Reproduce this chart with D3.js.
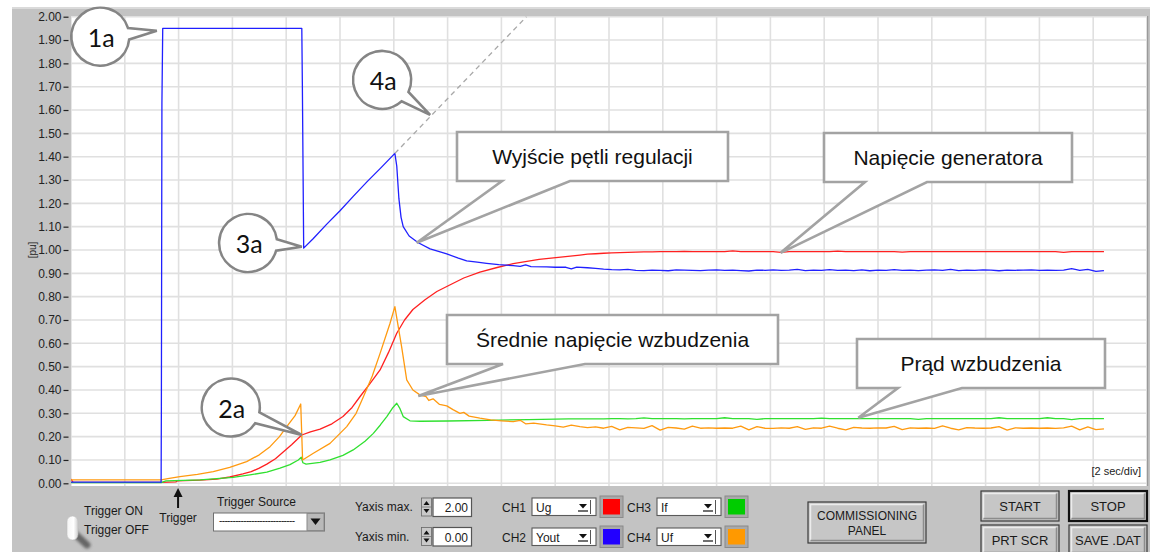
<!DOCTYPE html>
<html><head><meta charset="utf-8">
<script src="https://cdn.jsdelivr.net/npm/d3@7"></script>
<style>
html,body{margin:0;padding:0;background:#fff;}
svg{display:block;font-family:"Liberation Sans",Arial,sans-serif;}
</style></head><body>
<svg id="chart" width="1154" height="552"></svg>
<script>
// ---- axis ticks / grid ----
const yTickValues = [0.0,0.1,0.2,0.3,0.4,0.5,0.6,0.7,0.8,0.9,1.0,1.1,1.2,1.3,1.4,1.5,1.6,1.7,1.8,1.9,2.0];
const xGridTimes = [0,2,4,6,8,10,12,14,16,18,20,22,24,26,28,30,32,34,36,38,40];

// ---- recorded channels: transient part as [time s, value pu] ----
const youtTransient = [[0,0.005],[3.35,0.005],[3.36,0.33],[3.38,1.63],[3.41,1.95],[8.58,1.95],[8.60,1.72],[8.65,1.008],
 [9.0,1.048],[9.5,1.110],[10.0,1.168],[10.5,1.231],[11.0,1.292],[11.5,1.350],[12.04,1.414],[12.11,1.36],[12.19,1.22],
 [12.27,1.14],[12.35,1.10],[12.57,1.06],[12.91,1.031],[13.35,1.005],[13.97,0.983],[14.4,0.965],[14.71,0.953],[15.1,0.948],
 [15.45,0.943],[15.9,0.937],[16.44,0.933],[16.7,0.930],[16.9,0.936],[17.1,0.929],[17.68,0.928],[18.0,0.926],[18.4,0.926],
 [18.6,0.919],[18.8,0.927],[19.2,0.924]];
const ugTransient = [[0,0.018],[0.08,0.004],[3.35,0.004],[3.9,0.006],[3.95,0.010],[4.8,0.014],[5.42,0.018],[5.9,0.027],
 [6.39,0.040],[6.7,0.050],[7.0,0.065],[7.28,0.082],[7.6,0.105],[7.9,0.135],[8.2,0.165],[8.58,0.207],[8.9,0.220],[9.26,0.232],
 [9.7,0.255],[10.11,0.286],[10.45,0.325],[10.74,0.371],[11.1,0.425],[11.49,0.486],[11.8,0.560],[12.11,0.643],[12.4,0.700],
 [12.71,0.745],[13.16,0.787],[13.6,0.822],[14.08,0.850],[14.6,0.880],[15.2,0.905],[15.84,0.925],[16.44,0.942],[17.4,0.960],
 [18.92,0.978],[19.2,0.982]];
const ifTransient = [[0,0.003],[3.35,0.003],[3.53,0.010],[4.8,0.015],[6.02,0.025],[6.65,0.036],[7.28,0.048],[7.77,0.065],
 [8.14,0.080],[8.45,0.100],[8.56,0.112],[8.62,0.088],[8.74,0.082],[9.26,0.090],[9.63,0.100],[10.11,0.120],[10.49,0.143],
 [10.93,0.180],[11.24,0.214],[11.5,0.250],[11.74,0.286],[11.97,0.325],[12.11,0.343],[12.23,0.320],[12.35,0.286],[12.60,0.268],
 [12.97,0.266],[14.0,0.267],[15.5,0.270],[17.0,0.273],[18.5,0.276],[19.2,0.276]];
const ufTransient = [[0,0.015],[3.35,0.015],[3.6,0.020],[4.05,0.029],[4.7,0.038],[5.29,0.050],[5.9,0.068],[6.53,0.093],
 [7.0,0.122],[7.40,0.157],[7.75,0.200],[8.02,0.243],[8.33,0.290],[8.54,0.340],[8.61,0.100],[9.01,0.129],[9.63,0.171],
 [10.25,0.243],[10.6,0.300],[10.87,0.371],[11.2,0.460],[11.49,0.557],[11.86,0.686],[12.04,0.757],[12.29,0.586],[12.48,0.443],
 [12.71,0.400],[12.97,0.379],[13.2,0.372],[13.3,0.355],[13.46,0.362],[13.7,0.338],[13.97,0.332],[14.2,0.316],[14.46,0.300],
 [14.6,0.304],[14.8,0.288],[15.2,0.279],[15.6,0.272],[16.0,0.268],[16.44,0.264],[16.7,0.270],[16.9,0.255],[17.2,0.258],
 [17.68,0.250],[18.0,0.246],[18.3,0.241],[18.6,0.249],[18.92,0.243],[19.2,0.239]];

// ---- steady-state samples, one every 0.3 s from 19.5 s ----
const steadyStart = 19.5, steadyStep = 0.3;
const youtSteady = [0.921,0.918,0.916,0.915,0.917,0.913,0.912,0.914,0.913,0.911,0.915,0.914,0.913,0.912,0.914,0.915,
 0.913,0.914,0.912,0.910,0.914,0.913,0.915,0.913,0.914,0.917,0.912,0.914,0.913,0.916,0.913,0.914,0.912,0.915,0.911,0.914,
 0.913,0.916,0.913,0.914,0.912,0.914,0.915,0.913,0.917,0.912,0.914,0.913,0.915,0.914,0.911,0.914,0.913,0.914,0.915,0.913,
 0.914,0.913,0.914,0.920,0.913,0.917,0.908,0.912];
const ugSteady = [0.984,0.986,0.988,0.989,0.990,0.991,0.992,0.992,0.993,0.993,0.993,0.994,0.993,0.993,0.993,0.993,0.993,
 0.996,0.993,0.993,0.993,0.993,0.993,0.990,0.993,0.993,0.993,0.993,0.993,0.993,0.995,0.993,0.993,0.993,0.993,0.993,0.993,
 0.993,0.991,0.993,0.993,0.993,0.993,0.993,0.993,0.993,0.993,0.993,0.993,0.993,0.993,0.993,0.993,0.993,0.993,0.993,0.993,
 0.993,0.990,0.993,0.993,0.993,0.993,0.993];
const ifSteady = [0.276,0.276,0.277,0.277,0.276,0.277,0.280,0.277,0.277,0.277,0.277,0.276,0.277,0.277,0.277,0.277,0.281,
 0.277,0.277,0.277,0.274,0.277,0.277,0.277,0.277,0.277,0.277,0.277,0.279,0.277,0.277,0.277,0.277,0.277,0.277,0.277,0.277,
 0.277,0.277,0.277,0.274,0.277,0.277,0.277,0.277,0.277,0.277,0.277,0.277,0.277,0.281,0.277,0.277,0.277,0.277,0.277,0.281,
 0.277,0.277,0.273,0.277,0.277,0.277,0.277];
const ufSteady = [0.242,0.236,0.244,0.229,0.240,0.238,0.235,0.247,0.228,0.240,0.237,0.232,0.245,0.236,0.238,0.236,0.237,
 0.236,0.245,0.229,0.243,0.236,0.235,0.238,0.236,0.243,0.231,0.238,0.236,0.245,0.236,0.229,0.240,0.237,0.236,0.238,0.237,
 0.244,0.230,0.238,0.236,0.237,0.235,0.246,0.236,0.229,0.239,0.237,0.236,0.237,0.243,0.228,0.238,0.236,0.237,0.236,0.237,
 0.235,0.238,0.245,0.229,0.242,0.230,0.233];

// extrapolated ramp of the control output (dashed)
const rampExtension = [[12.04,1.414],[16.93,2.0]];

// ---- annotations: anchor in data space ----
const circleNotes = [
  {label:"1a", t:3.19, v:1.94},
  {label:"2a", t:8.58, v:0.207},
  {label:"3a", t:8.58, v:1.014},
  {label:"4a", t:13.35, v:1.579}
];
const boxNotes = [
  {label:"Wyjście pętli regulacji", t:12.85, v:1.031},
  {label:"Napięcie generatora", t:26.38, v:0.988},
  {label:"Średnie napięcie wzbudzenia", t:12.91, v:0.374},
  {label:"Prąd wzbudzenia", t:29.27, v:0.281}
];
// layout of the annotation shapes (pixels)
const circleLayout = [{dx:-56.5,dy:6},{dx:-71,dy:-27.5},{dx:-53.7,dy:-3.7},{dx:-48,dy:-35}];
const boxLayout = [
  {x0:457,y0:132,x1:728,y1:181,b1:502,b2:570},
  {x0:824,y0:133,x1:1072,y1:182,b1:865,b2:927},
  {x0:447,y0:315,x1:778,y1:364,b1:503,b2:585},
  {x0:857,y0:339,x1:1105,y1:388,b1:898,b2:962}
];

const channels = [
  {name:"Ug", ch:"CH1", color:"#ff2020", transient:ugTransient, steady:ugSteady},
  {name:"Yout", ch:"CH2", color:"#2020ff", transient:youtTransient, steady:youtSteady},
  {name:"If", ch:"CH3", color:"#30e030", transient:ifTransient, steady:ifSteady},
  {name:"Uf", ch:"CH4", color:"#ff9a10", transient:ufTransient, steady:ufSteady}
];
const swatchColors = {Ug:"#ff0000", Yout:"#2200ff", If:"#00cc00", Uf:"#ff9900"};

// ---- scales ----
const svg = d3.select("#chart");
const x = d3.scaleLinear().domain([0,40]).range([71,1147]);
const y = d3.scaleLinear().domain([0,2]).range([483.3,16.7]);

// panel background
svg.append("rect").attr("x",12).attr("y",7).attr("width",1138).attr("height",545).attr("fill","#c3c3c3");
svg.append("rect").attr("x",12).attr("y",7).attr("width",1138).attr("height",2).attr("fill","#dadada");
svg.append("rect").attr("x",71).attr("y",16).attr("width",1076).attr("height",470).attr("fill","#ffffff");
svg.append("line").attr("x1",1147.5).attr("x2",1147.5).attr("y1",16).attr("y2",486).attr("stroke","#9a9a9a").attr("stroke-width",1.5);

const defs = svg.append("defs");
defs.append("clipPath").attr("id","plotClip").append("rect").attr("x",71).attr("y",16).attr("width",1076).attr("height",470);
const blur = defs.append("filter").attr("id","soft").attr("x","-50%").attr("y","-50%").attr("width","200%").attr("height","200%");
blur.append("feGaussianBlur").attr("stdDeviation",1.6);
const pillGrad = defs.append("linearGradient").attr("id","pill").attr("x1",0).attr("x2",1).attr("y1",0).attr("y2",0);
pillGrad.append("stop").attr("offset","0").attr("stop-color","#f4f4f4");
pillGrad.append("stop").attr("offset","0.6").attr("stop-color","#ffffff");
pillGrad.append("stop").attr("offset","1").attr("stop-color","#cfcfcf");

// grid
const grid = svg.append("g").attr("clip-path","url(#plotClip)");
grid.selectAll("line.v").data(xGridTimes).join("line").attr("class","v")
  .attr("x1",d=>x(d)).attr("x2",d=>x(d)).attr("y1",16).attr("y2",486)
  .attr("stroke","#e0e0e0").attr("stroke-width",1.6);
grid.selectAll("line.h").data(yTickValues).join("line").attr("class","h")
  .attr("x1",71).attr("x2",1147).attr("y1",d=>y(d)).attr("y2",d=>y(d))
  .attr("stroke","#e0e0e0").attr("stroke-width",1.6);

// y axis
const yAxis = d3.axisLeft(y).tickValues(yTickValues).tickFormat(d3.format(".2f")).tickSize(5).tickPadding(2);
const ag = svg.append("g").attr("transform","translate(68.5,0)").call(yAxis);
ag.select(".domain").remove();
ag.selectAll(".tick line").attr("stroke","#222").attr("stroke-width",1.2);
ag.selectAll(".tick text").attr("font-family","'Liberation Sans',Arial,sans-serif").attr("font-size",12).attr("fill","#222");
svg.append("text").attr("transform","translate(36,250) rotate(-90)").attr("text-anchor","middle")
  .attr("font-size",10).attr("fill","#222").text("[pu]");

// channel traces
const line = d3.line().x(d=>x(d[0])).y(d=>y(d[1]));
const traces = svg.append("g").attr("clip-path","url(#plotClip)");
const drawOrder = ["Ug","If","Uf","Yout"];
drawOrder.forEach(n => {
  const c = channels.find(k=>k.name===n);
  const pts = c.transient.concat(c.steady.map((v,i)=>[steadyStart + i*steadyStep, v]));
  traces.append("path").datum(pts).attr("d",line).attr("fill","none")
    .attr("stroke",c.color).attr("stroke-width",1.3).attr("stroke-linejoin","round");
});
traces.append("path").datum(rampExtension).attr("d",line).attr("fill","none")
  .attr("stroke","#a8a8a8").attr("stroke-width",1.3).attr("stroke-dasharray","5,4");

svg.append("text").attr("x",1141).attr("y",475).attr("text-anchor","end").attr("font-size",11).attr("fill","#222").text("[2 sec/div]");

// box callouts
const notes = svg.append("g");
boxNotes.forEach((n,i) => {
  const b = boxLayout[i];
  const tx = x(n.t), ty = y(n.v);
  const p = `M${b.x0},${b.y0}H${b.x1}V${b.y1}H${b.b2}L${tx},${ty}L${b.b1},${b.y1}H${b.x0}Z`;
  notes.append("path").attr("d",p).attr("fill","#fff").attr("stroke","#a3a3a3").attr("stroke-width",2.6).attr("stroke-linejoin","miter");
  notes.append("text").attr("x",(b.x0+b.x1)/2).attr("y",(b.y0+b.y1)/2+7.5).attr("text-anchor","middle")
    .attr("font-size",21).attr("fill","#111").text(n.label);
});

// circle callouts
circleNotes.forEach((n,i) => {
  const l = circleLayout[i];
  const tx = x(n.t), ty = y(n.v);
  const cx = tx + l.dx, cy = ty + l.dy, r = 29;
  const phi = Math.atan2(ty-cy, tx-cx), dl = 0.2;
  const p1 = [cx + r*Math.cos(phi+dl), cy + r*Math.sin(phi+dl)];
  const p2 = [cx + r*Math.cos(phi-dl), cy + r*Math.sin(phi-dl)];
  const p = `M${p1[0]},${p1[1]}A${r},${r} 0 1 1 ${p2[0]},${p2[1]}L${tx},${ty}Z`;
  notes.append("path").attr("d",p).attr("fill","#fff").attr("stroke","#858585").attr("stroke-width",2.6).attr("stroke-linejoin","miter");
  notes.append("text").attr("x",cx+1).attr("y",cy+10).attr("text-anchor","middle")
    .attr("font-family","Lato,'Open Sans',sans-serif").attr("font-size",25).attr("fill","#111").text(n.label);
});

// ---- front-panel controls ----
const ui = svg.append("g").attr("font-size",12).attr("fill","#1a1a1a");

// trigger toggle
ui.append("line").attr("x1",74).attr("y1",533).attr("x2",87).attr("y2",545).attr("stroke","#555")
  .attr("stroke-width",7).attr("stroke-linecap","round").attr("filter","url(#soft)").attr("opacity",0.85);
ui.append("rect").attr("x",67).attr("y",516).attr("width",11).attr("height",24).attr("rx",5.5)
  .attr("fill","url(#pill)").attr("stroke","#bdbdbd").attr("stroke-width",0.6);
ui.append("text").attr("x",84).attr("y",515).text("Trigger ON");
ui.append("text").attr("x",84).attr("y",534).text("Trigger OFF");

// trigger marker
const trigX = x(3.98);
ui.append("path").attr("d",`M${trigX},488L${trigX-4.5},497L${trigX+4.5},497Z`).attr("fill","#111");
ui.append("line").attr("x1",trigX).attr("x2",trigX).attr("y1",495).attr("y2",508).attr("stroke","#111").attr("stroke-width",2);
ui.append("text").attr("x",trigX).attr("y",522).attr("text-anchor","middle").text("Trigger");

// trigger source ring
ui.append("text").attr("x",217).attr("y",506).text("Trigger Source");
ui.append("rect").attr("x",213.5).attr("y",513).attr("width",111).attr("height",18).attr("fill","#fff").attr("stroke","#707070");
ui.append("rect").attr("x",307).attr("y",513.5).attr("width",17).attr("height",17).attr("fill","#b9b9b9").attr("stroke","#8a8a8a");
ui.append("path").attr("d","M310.5,518.5L320.5,518.5L315.5,525Z").attr("fill","#111");
ui.append("text").attr("x",219).attr("y",524).attr("font-size",10).attr("textLength",76).text("----------------------------");

// numeric controls
function numeric(yTop, label, val) {
  ui.append("text").attr("x",355).attr("y",yTop+13).text(label);
  ui.append("rect").attr("x",421.5).attr("y",yTop).attr("width",10).attr("height",18).attr("fill","#c9c9c9").attr("stroke","#666").attr("stroke-width",0.8);
  ui.append("line").attr("x1",421.5).attr("x2",431.5).attr("y1",yTop+9).attr("y2",yTop+9).attr("stroke","#777").attr("stroke-width",0.8);
  ui.append("path").attr("d",`M423.5,${yTop+7}L429.5,${yTop+7}L426.5,${yTop+3}Z`).attr("fill","#111");
  ui.append("path").attr("d",`M423.5,${yTop+11}L429.5,${yTop+11}L426.5,${yTop+15}Z`).attr("fill","#111");
  ui.append("rect").attr("x",433).attr("y",yTop).attr("width",38.5).attr("height",18.5).attr("fill","#fff").attr("stroke","#555").attr("stroke-width",1.2);
  ui.append("text").attr("x",468).attr("y",yTop+14).attr("text-anchor","end").text(val);
}
numeric(498, "Yaxis max.", "2.00");
numeric(527.5, "Yaxis min.", "0.00");

// channel selectors
function selector(x0, yTop, ch) {
  ui.append("text").attr("x",x0).attr("y",yTop+13.5).text(ch.ch);
  const bx = x0 + 30;
  ui.append("rect").attr("x",bx).attr("y",yTop).attr("width",64).attr("height",17.5).attr("fill","#fff").attr("stroke","#5a5a5a").attr("stroke-width",1.1);
  ui.append("text").attr("x",bx+4).attr("y",yTop+13.5).text(ch.name);
  ui.append("path").attr("d",`M${bx+47},${yTop+6}L${bx+55},${yTop+6}L${bx+51},${yTop+10.5}Z`).attr("fill","#111");
  ui.append("line").attr("x1",bx+46).attr("x2",bx+56).attr("y1",yTop+13).attr("y2",yTop+13).attr("stroke","#111").attr("stroke-width",1.2);
  ui.append("line").attr("x1",bx+58.5).attr("x2",bx+58.5).attr("y1",yTop+2).attr("y2",yTop+16).attr("stroke","#555").attr("stroke-width",1);
  const sx = bx + 68;
  ui.append("rect").attr("x",sx).attr("y",yTop-2).attr("width",23).attr("height",21.5).attr("fill","#a9a9a9").attr("stroke","#8a8a8a");
  ui.append("rect").attr("x",sx+3).attr("y",yTop+1).attr("width",17).attr("height",15.5).attr("fill",swatchColors[ch.name]);
}
selector(502, 498, channels[0]);
selector(502, 528, channels[1]);
selector(627, 498, channels[2]);
selector(627, 528, channels[3]);

// buttons
function button(x0, y0, w, h, lines, strong) {
  ui.append("rect").attr("x",x0).attr("y",y0).attr("width",w).attr("height",h).attr("fill","#c6c6c6")
    .attr("stroke",strong ? "#111" : "#3a3a3a").attr("stroke-width",strong ? 2.2 : 1.2);
  ui.append("path").attr("d",`M${x0+2.5},${y0+h-2.5}V${y0+2.5}H${x0+w-2.5}`).attr("fill","none").attr("stroke","#ececec").attr("stroke-width",1.5);
  ui.append("path").attr("d",`M${x0+2.5},${y0+h-2.5}H${x0+w-2.5}V${y0+2.5}`).attr("fill","none").attr("stroke","#8c8c8c").attr("stroke-width",1.5);
  lines.forEach((t,i) => {
    ui.append("text").attr("x",x0+w/2).attr("y",y0 + h/2 + 5 + (i - (lines.length-1)/2)*15.5)
      .attr("text-anchor","middle").attr("font-size",lines.length>1?12:13).text(t);
  });
}
button(808, 502, 118, 41, ["COMMISSIONING","PANEL"], false);
button(981, 491, 78, 30, ["START"], false);
button(1069, 491, 78, 30, ["STOP"], true);
button(981, 525, 78, 30, ["PRT SCR"], false);
button(1069, 525, 78, 30, ["SAVE .DAT"], false);
</script></body></html>
